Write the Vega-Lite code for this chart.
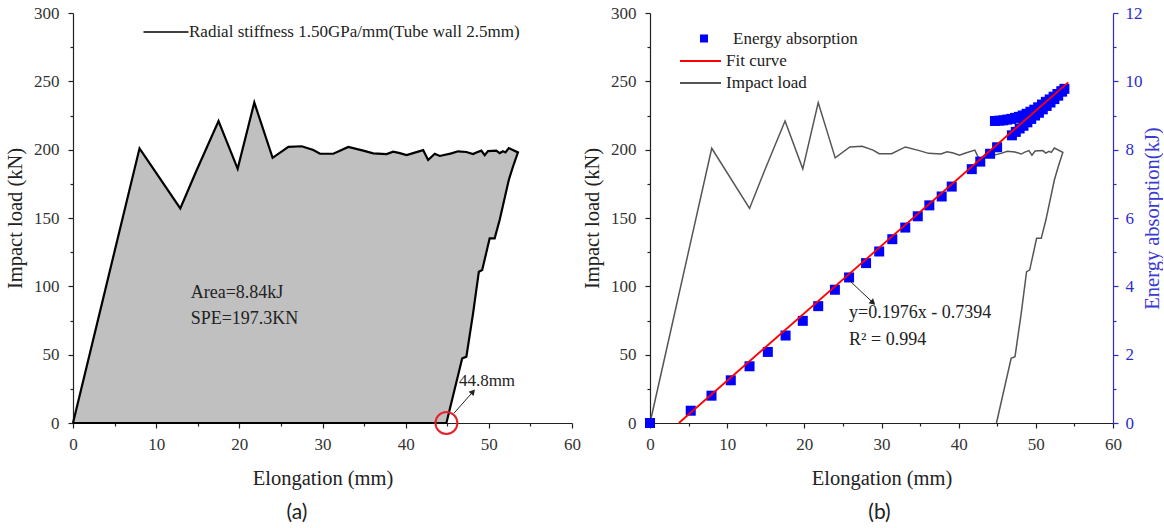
{
  "$schema": "https://vega.github.io/schema/vega-lite/v6.json",
  "autosize": {"type": "pad"},
  "padding": {"left": 5, "top": 4, "right": 0, "bottom": 0},
  "background": "white",
  "bounds": "flush",
  "spacing": 78,
  "config": {
    "view": {"stroke": null},
    "font": "Liberation Serif",
    "axis": {"grid": false, "domainColor": "#222", "tickColor": "#222", "labelColor": "#333", "titleColor": "#222", "tickSize": 5, "domainWidth": 1.2, "tickWidth": 1.2, "labelFlush": false, "labelOverlap": false, "labelFont": "Liberation Serif", "titleFont": "Liberation Serif"},
    "style": {"guide-label": {"font": "Liberation Serif"}, "guide-title": {"font": "Liberation Serif"}},
    "legend": {"padding": 0, "labelColor": "#222", "labelLimit": 600}
  },
  "datasets": {
    "load": [
      {"x": 0, "y": 0, "i": 0, "part": "curve"},
      {"x": 8.0, "y": 201, "i": 1, "part": "curve"},
      {"x": 12.9, "y": 157, "i": 2, "part": "curve"},
      {"x": 14.8, "y": 184, "i": 3, "part": "curve"},
      {"x": 17.5, "y": 221, "i": 4, "part": "curve"},
      {"x": 19.8, "y": 186, "i": 5, "part": "curve"},
      {"x": 21.8, "y": 234.5, "i": 6, "part": "curve"},
      {"x": 24.0, "y": 194, "i": 7, "part": "curve"},
      {"x": 25.9, "y": 202, "i": 8, "part": "curve"},
      {"x": 27.5, "y": 202.5, "i": 9, "part": "curve"},
      {"x": 28.9, "y": 199.7, "i": 10, "part": "curve"},
      {"x": 29.7, "y": 197, "i": 11, "part": "curve"},
      {"x": 31.3, "y": 197, "i": 12, "part": "curve"},
      {"x": 33.1, "y": 202, "i": 13, "part": "curve"},
      {"x": 34.9, "y": 199.3, "i": 14, "part": "curve"},
      {"x": 36.1, "y": 197.3, "i": 15, "part": "curve"},
      {"x": 37.7, "y": 196.8, "i": 16, "part": "curve"},
      {"x": 38.5, "y": 198.5, "i": 17, "part": "curve"},
      {"x": 39.3, "y": 197.5, "i": 18, "part": "curve"},
      {"x": 40.1, "y": 196, "i": 19, "part": "curve"},
      {"x": 40.9, "y": 197.5, "i": 20, "part": "curve"},
      {"x": 42.1, "y": 199.7, "i": 21, "part": "curve"},
      {"x": 42.7, "y": 192.4, "i": 22, "part": "curve"},
      {"x": 43.5, "y": 197, "i": 23, "part": "curve"},
      {"x": 44.1, "y": 195.4, "i": 24, "part": "curve"},
      {"x": 45.5, "y": 197.3, "i": 25, "part": "curve"},
      {"x": 46.3, "y": 198.8, "i": 26, "part": "curve"},
      {"x": 47.3, "y": 198.3, "i": 27, "part": "curve"},
      {"x": 48.1, "y": 196.8, "i": 28, "part": "curve"},
      {"x": 48.5, "y": 198, "i": 29, "part": "curve"},
      {"x": 49.1, "y": 199.3, "i": 30, "part": "curve"},
      {"x": 49.5, "y": 196, "i": 31, "part": "curve"},
      {"x": 49.9, "y": 199, "i": 32, "part": "curve"},
      {"x": 50.9, "y": 199.3, "i": 33, "part": "curve"},
      {"x": 51.3, "y": 197.5, "i": 34, "part": "curve"},
      {"x": 51.7, "y": 198.8, "i": 35, "part": "curve"},
      {"x": 52.0, "y": 198, "i": 36, "part": "curve"},
      {"x": 52.4, "y": 201.2, "i": 37, "part": "curve"},
      {"x": 53.5, "y": 198, "i": 38, "part": "curve"},
      {"x": 52.9, "y": 187.5, "i": 39, "part": "curve"},
      {"x": 52.4, "y": 177.8, "i": 40, "part": "curve"},
      {"x": 51.3, "y": 148.5, "i": 41, "part": "curve"},
      {"x": 50.7, "y": 135.1, "i": 42, "part": "curve"},
      {"x": 50.1, "y": 135.1, "i": 43, "part": "curve"},
      {"x": 49.2, "y": 111.9, "i": 44, "part": "curve"},
      {"x": 48.8, "y": 110.7, "i": 45, "part": "curve"},
      {"x": 48.1, "y": 80, "i": 46, "part": "curve"},
      {"x": 47.3, "y": 48.5, "i": 47, "part": "curve"},
      {"x": 46.8, "y": 47.3, "i": 48, "part": "curve"},
      {"x": 44.9, "y": 0, "i": 49, "part": "curve"},
      {"x": 0, "y": 0, "i": 50, "part": "close"}
    ],
    "region": [
      {"x": 0, "top": 0, "lo": 0}, {"x": 8.0, "top": 201, "lo": 0}, {"x": 12.9, "top": 157, "lo": 0},
      {"x": 14.8, "top": 184, "lo": 0}, {"x": 17.5, "top": 221, "lo": 0}, {"x": 19.8, "top": 186, "lo": 0},
      {"x": 21.8, "top": 234.5, "lo": 0}, {"x": 24.0, "top": 194, "lo": 0}, {"x": 25.9, "top": 202, "lo": 0},
      {"x": 27.5, "top": 202.5, "lo": 0}, {"x": 28.9, "top": 199.7, "lo": 0}, {"x": 29.7, "top": 197, "lo": 0},
      {"x": 31.3, "top": 197, "lo": 0}, {"x": 33.1, "top": 202, "lo": 0}, {"x": 34.9, "top": 199.3, "lo": 0},
      {"x": 36.1, "top": 197.3, "lo": 0}, {"x": 37.7, "top": 196.8, "lo": 0}, {"x": 38.5, "top": 198.5, "lo": 0},
      {"x": 39.3, "top": 197.5, "lo": 0}, {"x": 40.1, "top": 196, "lo": 0}, {"x": 40.9, "top": 197.5, "lo": 0},
      {"x": 42.1, "top": 199.7, "lo": 0}, {"x": 42.7, "top": 192.4, "lo": 0}, {"x": 43.5, "top": 197, "lo": 0},
      {"x": 44.1, "top": 195.4, "lo": 0}, {"x": 44.9, "top": 196.5, "lo": 0}, {"x": 45.5, "top": 197.3, "lo": 15},
      {"x": 46.3, "top": 198.8, "lo": 37}, {"x": 46.8, "top": 198.6, "lo": 47.3}, {"x": 47.3, "top": 198.3, "lo": 48.5},
      {"x": 48.1, "top": 196.8, "lo": 80}, {"x": 48.5, "top": 198, "lo": 95}, {"x": 48.8, "top": 198.7, "lo": 110.7},
      {"x": 49.1, "top": 199.3, "lo": 111.5}, {"x": 49.2, "top": 198.5, "lo": 111.9}, {"x": 49.5, "top": 196, "lo": 118},
      {"x": 49.9, "top": 199, "lo": 130}, {"x": 50.1, "top": 199.1, "lo": 135.1}, {"x": 50.7, "top": 199.2, "lo": 135.1},
      {"x": 50.9, "top": 199.3, "lo": 139}, {"x": 51.3, "top": 197.5, "lo": 148.5}, {"x": 51.7, "top": 198.8, "lo": 159},
      {"x": 52.0, "top": 198, "lo": 167}, {"x": 52.4, "top": 201.2, "lo": 177.8}, {"x": 52.9, "top": 199.5, "lo": 187.5},
      {"x": 53.5, "top": 198, "lo": 198}
    ],
    "energy": [
      {"x": 0, "e": 0}, {"x": 5.28, "e": 0.36}, {"x": 7.97, "e": 0.8}, {"x": 10.47, "e": 1.25},
      {"x": 12.9, "e": 1.66}, {"x": 15.27, "e": 2.08}, {"x": 17.57, "e": 2.56}, {"x": 19.8, "e": 2.99},
      {"x": 21.8, "e": 3.42}, {"x": 23.96, "e": 3.9}, {"x": 25.8, "e": 4.26}, {"x": 28.0, "e": 4.68},
      {"x": 29.7, "e": 5.02}, {"x": 31.4, "e": 5.38}, {"x": 33.08, "e": 5.72}, {"x": 34.7, "e": 6.05},
      {"x": 36.2, "e": 6.37}, {"x": 37.8, "e": 6.63}, {"x": 39.1, "e": 6.92}, {"x": 41.7, "e": 7.43},
      {"x": 42.8, "e": 7.65}, {"x": 44.07, "e": 7.88}, {"x": 44.98, "e": 8.07},
      {"x": 44.7, "e": 8.84}, {"x": 45.3, "e": 8.85}, {"x": 45.8, "e": 8.86}, {"x": 46.3, "e": 8.88},
      {"x": 46.8, "e": 8.9}, {"x": 47.3, "e": 8.93}, {"x": 47.8, "e": 8.96}, {"x": 48.3, "e": 9.0},
      {"x": 48.8, "e": 9.05}, {"x": 49.3, "e": 9.11}, {"x": 49.8, "e": 9.17}, {"x": 50.3, "e": 9.24},
      {"x": 50.8, "e": 9.32}, {"x": 51.3, "e": 9.4}, {"x": 51.8, "e": 9.47}, {"x": 52.3, "e": 9.55},
      {"x": 52.8, "e": 9.63}, {"x": 53.3, "e": 9.71}, {"x": 53.7, "e": 9.78},
      {"x": 46.9, "e": 8.42}, {"x": 47.4, "e": 8.52}, {"x": 47.9, "e": 8.62}, {"x": 48.4, "e": 8.7},
      {"x": 48.9, "e": 8.8}, {"x": 49.4, "e": 8.9}, {"x": 49.9, "e": 9.0}, {"x": 50.4, "e": 9.08},
      {"x": 50.9, "e": 9.18}, {"x": 51.4, "e": 9.28}, {"x": 51.9, "e": 9.38}, {"x": 52.4, "e": 9.48},
      {"x": 52.9, "e": 9.58}, {"x": 53.4, "e": 9.7}
    ],
    "fit": [
      {"x": 3.74, "e": 0},
      {"x": 54.2, "e": 9.97}
    ]
  },
  "resolve": {"scale": {"stroke": "independent", "fill": "independent"}},
  "hconcat": [
    {
      "width": 499,
      "height": 410,
      "title": {"text": "(a)", "orient": "bottom", "frame": "bounds", "anchor": "middle", "offset": 13, "dx": 4, "font": "Lato", "fontSize": 21, "fontWeight": "normal", "color": "#222"},
      "resolve": {"axis": {"x": "independent", "y": "independent"}},
      "layer": [
        {
          "data": {"name": "region"},
          "mark": {"type": "area", "color": "#c0c0c0", "interpolate": "linear", "opacity": 1},
          "encoding": {
            "x": {"field": "x", "type": "quantitative", "scale": {"domain": [0, 60], "nice": false},
                  "axis": {"orient": "bottom", "values": [0, 10, 20, 30, 40, 50, 60], "title": "Elongation (mm)", "labelFont": "Liberation Serif", "titleFont": "Liberation Serif", "labelFontSize": 17, "titleFontSize": 20.5, "titleFontWeight": "normal", "labelPadding": 8, "titlePadding": 16}},
            "y": {"field": "top", "type": "quantitative", "stack": null, "scale": {"domain": [0, 300], "nice": false},
                  "axis": {"orient": "left", "values": [0, 50, 100, 150, 200, 250, 300], "title": "Impact load (kN)", "labelFont": "Liberation Serif", "titleFont": "Liberation Serif", "labelFontSize": 17, "titleFontSize": 20.5, "titleFontWeight": "normal", "labelPadding": 9, "titlePadding": 8}},
            "y2": {"field": "lo"}
          }
        },
        {
          "data": {"name": "load"},
          "mark": {"type": "line", "strokeWidth": 2.2, "interpolate": "linear"},
          "encoding": {
            "x": {"field": "x", "type": "quantitative", "scale": {"domain": [0, 60], "nice": false},
                  "axis": {"orient": "bottom", "values": [5, 15, 25, 35, 45, 55], "labels": false, "domain": false, "title": null, "tickSize": 3}},
            "y": {"field": "y", "type": "quantitative", "scale": {"domain": [0, 300], "nice": false},
                  "axis": {"orient": "left", "values": [25, 75, 125, 175, 225, 275], "labels": false, "domain": false, "title": null, "tickSize": 3}},
            "order": {"field": "i", "type": "quantitative"},
            "stroke": {"datum": "Radial stiffness 1.50GPa/mm(Tube wall 2.5mm)", "scale": {"range": ["#000000"]},
                       "legend": {"orient": "none", "legendX": 82, "legendY": 8, "title": null, "symbolType": "M-2.25,0H2.25", "symbolSize": 400, "symbolStrokeWidth": 1.3, "labelOffset": 12, "labelFont": "Liberation Serif", "labelFontSize": 17, "labelLimit": 600}}
          }
        },
        {
          "data": {"values": [{}]},
          "mark": {"type": "point", "shape": "circle", "size": 480, "strokeWidth": 2, "color": "#e8202a", "filled": false, "opacity": 1},
          "encoding": {
            "x": {"datum": 44.9, "type": "quantitative", "axis": null},
            "y": {"datum": 0, "type": "quantitative", "axis": null}
          }
        },
        {
          "data": {"values": [{}]},
          "mark": {"type": "rule", "color": "#222", "strokeWidth": 1},
          "encoding": {
            "x": {"datum": 45.8, "type": "quantitative", "axis": null},
            "y": {"datum": 7.1, "type": "quantitative", "axis": null},
            "x2": {"datum": 48.1},
            "y2": {"datum": 22.9}
          }
        },
        {
          "data": {"values": [{}]},
          "mark": {"type": "point", "shape": "triangle-up", "size": 45, "angle": 41.5, "filled": true, "color": "#222", "opacity": 1},
          "encoding": {
            "x": {"datum": 48.1, "type": "quantitative", "axis": null},
            "y": {"datum": 22.9, "type": "quantitative", "axis": null}
          }
        },
        {
          "data": {"values": [{}]},
          "mark": {"type": "text", "align": "left", "baseline": "middle", "fontSize": 17, "font": "Liberation Serif", "color": "#222"},
          "encoding": {
            "x": {"datum": 46.4, "type": "quantitative", "axis": null},
            "y": {"datum": 30.8, "type": "quantitative", "axis": null},
            "text": {"value": "44.8mm"}
          }
        },
        {
          "data": {"values": [{}]},
          "mark": {"type": "text", "align": "left", "baseline": "middle", "fontSize": 18, "font": "Liberation Serif", "color": "#222"},
          "encoding": {
            "x": {"datum": 14.15, "type": "quantitative", "axis": null},
            "y": {"datum": 95, "type": "quantitative", "axis": null},
            "text": {"value": "Area=8.84kJ"}
          }
        },
        {
          "data": {"values": [{}]},
          "mark": {"type": "text", "align": "left", "baseline": "middle", "fontSize": 18, "font": "Liberation Serif", "color": "#222"},
          "encoding": {
            "x": {"datum": 14.15, "type": "quantitative", "axis": null},
            "y": {"datum": 76, "type": "quantitative", "axis": null},
            "text": {"value": "SPE=197.3KN"}
          }
        }
      ]
    },
    {
      "width": 463,
      "height": 410,
      "title": {"text": "(b)", "orient": "bottom", "frame": "bounds", "anchor": "middle", "offset": 13, "dx": 7, "font": "Lato", "fontSize": 21, "fontWeight": "normal", "color": "#222"},
      "resolve": {"scale": {"y": "independent"}, "axis": {"x": "independent", "y": "independent"}},
      "layer": [
        {
          "data": {"name": "load"},
          "transform": [{"filter": "datum.part == 'curve'"}],
          "mark": {"type": "line", "strokeWidth": 1.5, "interpolate": "linear"},
          "encoding": {
            "x": {"field": "x", "type": "quantitative", "scale": {"domain": [0, 60], "nice": false},
                  "axis": {"orient": "bottom", "values": [0, 10, 20, 30, 40, 50, 60], "title": "Elongation (mm)", "labelFont": "Liberation Serif", "titleFont": "Liberation Serif", "labelFontSize": 17, "titleFontSize": 20.5, "titleFontWeight": "normal", "labelPadding": 8, "titlePadding": 16}},
            "y": {"field": "y", "type": "quantitative", "scale": {"domain": [0, 300], "nice": false},
                  "axis": {"orient": "left", "values": [0, 50, 100, 150, 200, 250, 300], "title": "Impact load (kN)", "labelFont": "Liberation Serif", "titleFont": "Liberation Serif", "labelFontSize": 17, "titleFontSize": 20.5, "titleFontWeight": "normal", "labelPadding": 9, "titlePadding": 8}},
            "order": {"field": "i", "type": "quantitative"},
            "stroke": {"datum": "Impact load", "scale": {"domain": ["Fit curve", "Impact load"], "range": ["#ff0000", "#555555"]},
                       "legend": {"orient": "none", "legendX": 39.5, "legendY": 37, "title": null, "symbolType": "M-2.05,0H2.05", "symbolSize": 400, "symbolStrokeWidth": 2, "labelOffset": 14.5, "rowPadding": 3, "labelFont": "Liberation Serif", "labelFontSize": 17}}
          }
        },
        {
          "data": {"name": "load"},
          "transform": [{"filter": "datum.part == 'curve'"}],
          "mark": {"type": "line", "strokeOpacity": 0},
          "encoding": {
            "x": {"field": "x", "type": "quantitative", "scale": {"domain": [0, 60], "nice": false},
                  "axis": {"orient": "bottom", "values": [5, 15, 25, 35, 45, 55], "labels": false, "domain": false, "title": null, "tickSize": 3}},
            "y": {"field": "y", "type": "quantitative", "scale": {"domain": [0, 300], "nice": false},
                  "axis": {"orient": "left", "values": [25, 75, 125, 175, 225, 275], "labels": false, "domain": false, "title": null, "tickSize": 3}},
            "order": {"field": "i", "type": "quantitative"}
          }
        },
        {
          "data": {"name": "energy"},
          "mark": {"type": "point", "shape": "square", "size": 100, "filled": true, "opacity": 1},
          "encoding": {
            "x": {"field": "x", "type": "quantitative", "axis": null},
            "y": {"field": "e", "type": "quantitative", "scale": {"domain": [0, 12], "nice": false},
                  "axis": {"orient": "right", "values": [0, 2, 4, 6, 8, 10, 12], "title": "Energy absorption(kJ)", "titleAngle": -90, "titleBaseline": "top", "labelFont": "Liberation Serif", "titleFont": "Liberation Serif", "labelFontSize": 17, "titleFontSize": 20.5, "titleFontWeight": "normal", "domainColor": "#2b2bd0", "tickColor": "#2b2bd0", "labelColor": "#2b2bd0", "titleColor": "#3a3ad4", "labelPadding": 7, "titlePadding": 0}},
            "fill": {"datum": "Energy absorption", "scale": {"range": ["#0000ff"]},
                     "legend": {"orient": "none", "legendX": 45.5, "legendY": 17, "title": null, "symbolType": "square", "symbolSize": 64, "symbolStrokeWidth": 0, "labelOffset": 20.5, "labelFont": "Liberation Serif", "labelFontSize": 17}}
          }
        },
        {
          "data": {"name": "fit"},
          "mark": {"type": "line", "strokeWidth": 1.8},
          "encoding": {
            "x": {"field": "x", "type": "quantitative", "axis": null},
            "y": {"field": "e", "type": "quantitative", "scale": {"domain": [0, 12], "nice": false},
                  "axis": {"orient": "right", "values": [1, 3, 5, 7, 9, 11], "labels": false, "domain": false, "title": null, "tickSize": 3, "tickColor": "#2b2bd0"}},
            "stroke": {"datum": "Fit curve"}
          }
        },
        {
          "data": {"values": [{}]},
          "mark": {"type": "rule", "color": "#222", "strokeWidth": 1},
          "encoding": {
            "x": {"datum": 25.8, "type": "quantitative", "axis": null},
            "y": {"datum": 4.18, "type": "quantitative", "scale": {"domain": [0, 12], "nice": false}, "axis": null},
            "x2": {"datum": 28.9},
            "y2": {"datum": 3.52}
          }
        },
        {
          "data": {"values": [{}]},
          "mark": {"type": "point", "shape": "triangle-up", "size": 45, "angle": 132, "filled": true, "color": "#222", "opacity": 1},
          "encoding": {
            "x": {"datum": 28.9, "type": "quantitative", "axis": null},
            "y": {"datum": 3.52, "type": "quantitative", "scale": {"domain": [0, 12], "nice": false}, "axis": null}
          }
        },
        {
          "data": {"values": [{}]},
          "mark": {"type": "text", "align": "left", "baseline": "middle", "fontSize": 18, "font": "Liberation Serif", "color": "#222"},
          "encoding": {
            "x": {"datum": 25.8, "type": "quantitative", "axis": null},
            "y": {"datum": 3.21, "type": "quantitative", "scale": {"domain": [0, 12], "nice": false}, "axis": null},
            "text": {"value": "y=0.1976x - 0.7394"}
          }
        },
        {
          "data": {"values": [{}]},
          "mark": {"type": "text", "align": "left", "baseline": "middle", "fontSize": 18, "font": "Liberation Serif", "color": "#222"},
          "encoding": {
            "x": {"datum": 25.8, "type": "quantitative", "axis": null},
            "y": {"datum": 2.43, "type": "quantitative", "scale": {"domain": [0, 12], "nice": false}, "axis": null},
            "text": {"value": "R² = 0.994"}
          }
        }
      ]
    }
  ]
}
